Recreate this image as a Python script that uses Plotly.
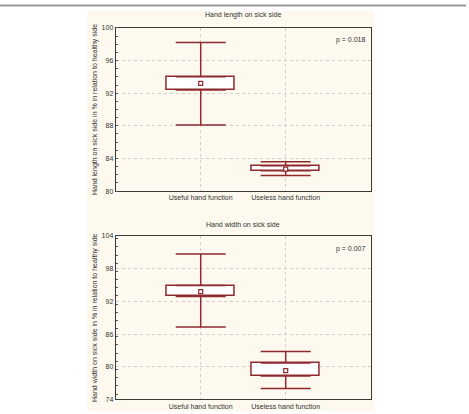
import plotly.graph_objects as go

categories = ["Useful hand function", "Useless hand function"]

# Hand length on sick side (% of healthy side)
len_whisker_low = [88.1, 81.9]
len_box_low = [92.4, 82.5]
len_mean = [93.2, 82.7]
len_box_high = [94.0, 83.1]
len_whisker_high = [98.2, 83.6]

# Hand width on sick side (% of healthy side)
wid_whisker_low = [87.3, 76.0]
wid_box_low = [92.9, 78.3]
wid_mean = [93.8, 79.3]
wid_box_high = [94.9, 80.7]
wid_whisker_high = [100.7, 82.8]

titles = ["Hand length on sick side", "Hand width on sick side"]
ytitles = ["Hand length on sick side in % in relation to healthy side",
           "Hand width on sick side in % in relation to healthy side"]
pvals = ["p = 0.018", "p = 0.007"]
ytick_top = [80, 84, 88, 92, 96, 100]
ytick_bot = [74, 80, 86, 92, 98, 104]

RED = "#8e2a2e"
FONT = "Liberation Sans, Arial, sans-serif"

fig = go.Figure()

def add_group(xa, ya, wl, bl, mn, bh, wh):
    # box body
    fig.add_trace(go.Bar(
        x=categories, base=bl, y=[h - l for h, l in zip(bh, bl)],
        width=0.79, marker=dict(color="white", line=dict(color=RED, width=1.5)),
        xaxis=xa, yaxis=ya, showlegend=False, hoverinfo="skip"))
    # upper whisker
    fig.add_trace(go.Scatter(
        x=categories, y=bh, mode="markers", marker=dict(size=0.1, color=RED, opacity=0),
        error_y=dict(type="data", symmetric=False,
                     array=[w - b for w, b in zip(wh, bh)], arrayminus=[0, 0],
                     color=RED, thickness=1.5, width=25),
        xaxis=xa, yaxis=ya, showlegend=False, hoverinfo="skip"))
    # lower whisker
    fig.add_trace(go.Scatter(
        x=categories, y=bl, mode="markers", marker=dict(size=0.1, color=RED, opacity=0),
        error_y=dict(type="data", symmetric=False,
                     array=[0, 0], arrayminus=[b - w for w, b in zip(wl, bl)],
                     color=RED, thickness=1.5, width=25),
        xaxis=xa, yaxis=ya, showlegend=False, hoverinfo="skip"))
    # mean
    fig.add_trace(go.Scatter(
        x=categories, y=mn, mode="markers",
        marker=dict(symbol="square", size=4, color="white", line=dict(color=RED, width=1.2)),
        xaxis=xa, yaxis=ya, showlegend=False))

add_group("x", "y", len_whisker_low, len_box_low, len_mean, len_box_high, len_whisker_high)
add_group("x2", "y2", wid_whisker_low, wid_box_low, wid_mean, wid_box_high, wid_whisker_high)

xdom = [0.2467, 0.7904]
axis_common = dict(showline=True, linecolor="#3a3a3a", linewidth=1, mirror=True,
                   showgrid=True, gridcolor="#cfcfcf", griddash="dot", gridwidth=1,
                   zeroline=False, tickfont=dict(size=7, color="#333", family=FONT))

fig.update_layout(
    width=469, height=414, margin=dict(l=0, r=0, t=0, b=0),
    paper_bgcolor="white", plot_bgcolor="white",
    font=dict(family=FONT, size=7, color="#333"),
    bargap=0,
    xaxis=dict(domain=xdom, anchor="y", type="category", range=[-1, 2], ticks="",
               ticklen=0, **axis_common),
    yaxis=dict(domain=[0.5403, 0.9413], anchor="x", range=[80, 100], tickvals=ytick_top,
               ticks="", minor=dict(dtick=1, ticks="inside", ticklen=2, tickcolor="#555", showgrid=False),
               title=dict(text=ytitles[0], font=dict(size=7, family=FONT, color="#333"), standoff=3),
               **axis_common),
    xaxis2=dict(domain=xdom, anchor="y2", type="category", range=[-1, 2], ticks="",
                ticklen=0, **axis_common),
    yaxis2=dict(domain=[0.0283, 0.4300], anchor="x2", range=[74, 104], tickvals=ytick_bot,
                ticks="", minor=dict(dtick=1.5, ticks="inside", ticklen=2, tickcolor="#555", showgrid=False),
                title=dict(text=ytitles[1], font=dict(size=7, family=FONT, color="#333"), standoff=3),
                **axis_common),
    shapes=[
        dict(type="rect", xref="paper", yref="paper", x0=87/469, x1=374/469, y0=0, y1=1 - 7/414,
             fillcolor="#fdf9ee", line=dict(width=0), layer="below"),
        dict(type="line", xref="paper", yref="paper", x0=0, x1=466/469, y0=1 - 1.5/414, y1=1 - 1.5/414,
             line=dict(color="#9a9a9a", width=2)),
    ],
    annotations=[
        dict(text=titles[0], xref="paper", yref="paper", x=243/469, y=1 - 11/414,
             showarrow=False, font=dict(size=7, family=FONT, color="#333"), xanchor="center", yanchor="middle"),
        dict(text=titles[1], xref="paper", yref="paper", x=243/469, y=1 - 224/414,
             showarrow=False, font=dict(size=7, family=FONT, color="#333"), xanchor="center", yanchor="middle"),
        dict(text=pvals[0], xref="x domain", yref="y domain", x=0.985, y=0.96,
             showarrow=False, font=dict(size=7, family=FONT, color="#333"), xanchor="right", yanchor="top"),
        dict(text=pvals[1], xref="x2 domain", yref="y2 domain", x=0.985, y=0.96,
             showarrow=False, font=dict(size=7, family=FONT, color="#333"), xanchor="right", yanchor="top"),
    ],
)

fig.write_html("out.html")
